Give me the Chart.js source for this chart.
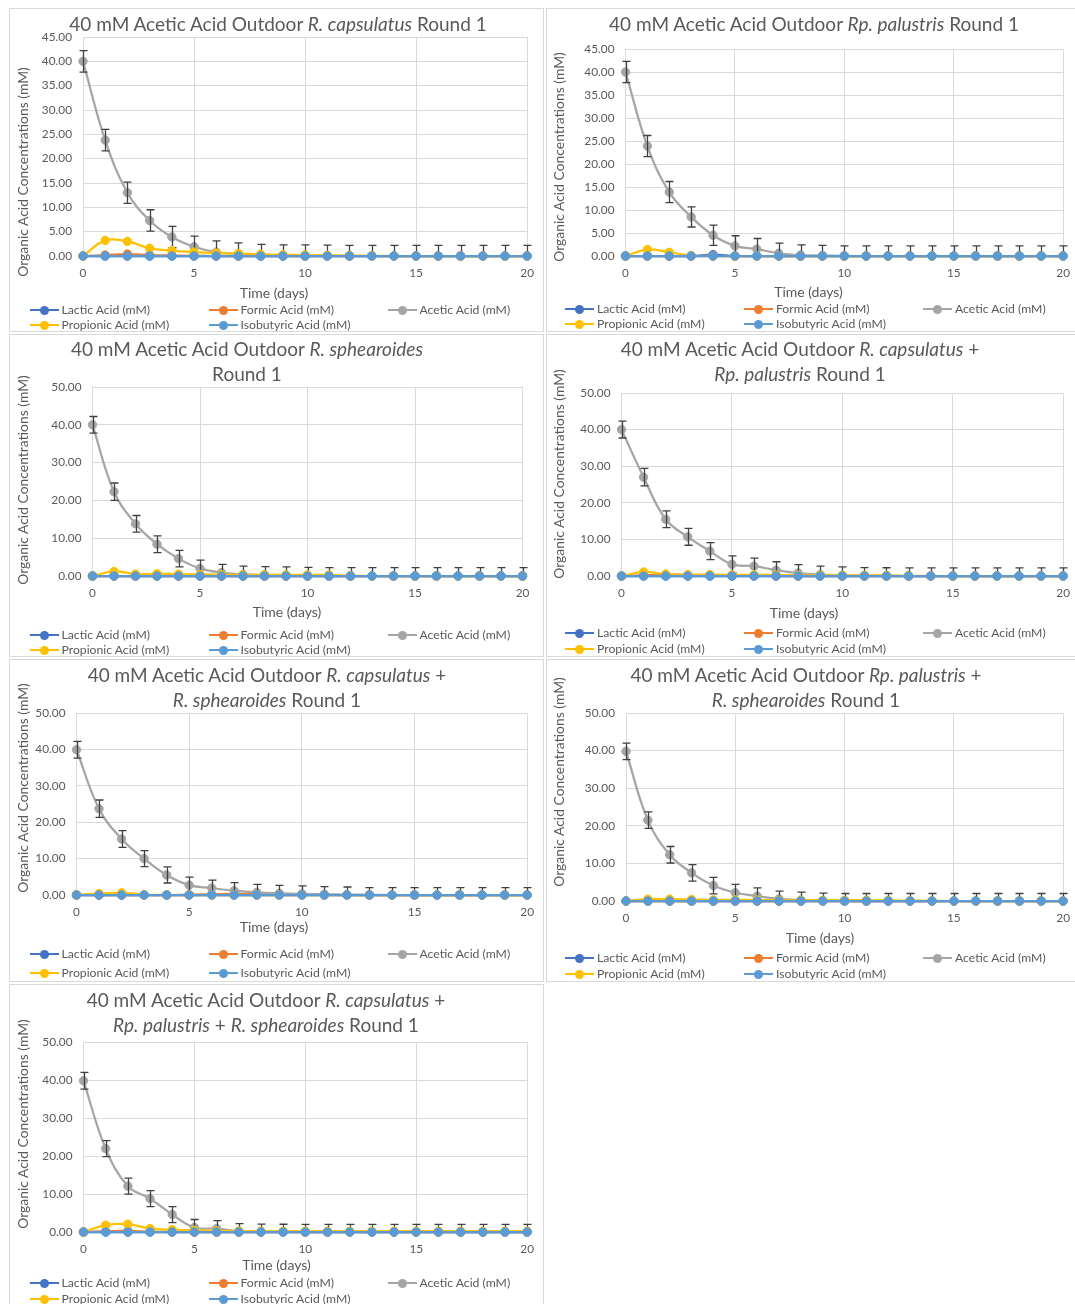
<!DOCTYPE html>
<html>
<head>
<meta charset="utf-8">
<script src="https://cdn.jsdelivr.net/npm/chart.js@4.4.1/dist/chart.umd.min.js"></script>
<style>
  html, body { margin: 0; padding: 0; background: #fff; overflow: hidden; width: 1075px; height: 1304px; }
  body { position: relative; font-family: Lato, "Open Sans", sans-serif; color: #595959; }
  .panel { position: absolute; border: 1px solid #d9d9d9; box-sizing: border-box; background: #fff; }
  canvas.cv { position: absolute; }
  .title { position: absolute; font-size: 19px; line-height: 24px; white-space: nowrap; transform: translate(-50%, -50%); }
  .xt { position: absolute; font-size: 14px; line-height: 16px; white-space: nowrap; transform: translate(-50%, -50%); }
  .yt { position: absolute; font-size: 13.9px; line-height: 16px; white-space: nowrap; transform: translate(-50%, -50%) rotate(-90deg); }
  .lg { position: absolute; font-size: 12.2px; line-height: 14px; white-space: nowrap; transform: translateY(-50%); display: flex; align-items: center; }
  .lg .mk { position: relative; width: 29px; height: 10px; margin-right: 3px; flex: none; }
  .lg .mk .ln { position: absolute; left: 0; right: 0; top: 4px; height: 2.25px; }
  .lg .mk .dot { position: absolute; left: 10px; top: 0.5px; width: 9px; height: 9px; border-radius: 50%; }
</style>
</head>
<body>
<script>
// ---- data -------------------------------------------------------------
const days = [0, 1, 2, 3, 4, 5, 6, 7, 8, 9, 10, 11, 12, 13, 14, 15, 16, 17, 18, 19, 20];

const seriesNames = ['Lactic Acid (mM)', 'Formic Acid (mM)', 'Acetic Acid (mM)', 'Propionic Acid (mM)', 'Isobutyric Acid (mM)'];

const titles = [
  ['40 mM Acetic Acid Outdoor <i>R. capsulatus</i> Round 1'],
  ['40 mM Acetic Acid Outdoor <i>Rp. palustris</i> Round 1'],
  ['40 mM Acetic Acid Outdoor <i>R. sphearoides</i>', 'Round 1'],
  ['40 mM Acetic Acid Outdoor <i>R. capsulatus</i> +', '<i>Rp. palustris</i> Round 1'],
  ['40 mM Acetic Acid Outdoor <i>R. capsulatus</i> +', '<i>R. sphearoides</i> Round 1'],
  ['40 mM Acetic Acid Outdoor <i>Rp. palustris</i> +', '<i>R. sphearoides</i> Round 1'],
  ['40 mM Acetic Acid Outdoor <i>R. capsulatus</i> +', '<i>Rp. palustris</i> + <i>R. sphearoides</i> Round 1']
];
const xAxisTitle = 'Time (days)';
const yAxisTitle = 'Organic Acid Concentrations (mM)';
const yMax = [45, 45, 50, 50, 50, 50, 50];
const yStep = [5, 5, 10, 10, 10, 10, 10];
const xMax = 20;
const xStep = 5;

// R. capsulatus
const lactic1     = [0, 0, 0, 0, 0, 0, 0, 0, 0, 0, 0, 0, 0, 0, 0, 0, 0, 0, 0, 0, 0];
const formic1     = [0, 0.2, 0.4, 0.2, 0.1, 0.05, 0, 0, 0, 0, 0, 0, 0, 0, 0, 0, 0, 0, 0, 0, 0];
const acetic1     = [40.0, 23.8, 13.0, 7.3, 3.9, 1.9, 0.8, 0.4, 0.2, 0.1, 0.1, 0.05, 0, 0, 0, 0, 0, 0, 0, 0, 0];
const aceticErr1  = [2.2, 2.2, 2.2, 2.2, 2.2, 2.2, 2.3, 2.3, 2.2, 2.2, 2.2, 2.2, 2.2, 2.2, 2.2, 2.2, 2.2, 2.2, 2.2, 2.2, 2.2];
const propionic1  = [0, 3.2, 3.0, 1.6, 1.1, 0.8, 0.6, 0.5, 0.35, 0.25, 0.2, 0.15, 0.1, 0.05, 0, 0, 0, 0, 0, 0, 0];
const isobutyric1 = [0, 0, 0, 0, 0, 0, 0, 0, 0, 0, 0, 0, 0, 0, 0, 0, 0, 0, 0, 0, 0];

// Rp. palustris
const lactic2     = [0, 0, 0, 0, 0.3, 0, 0, 0, 0, 0, 0, 0, 0, 0, 0, 0, 0, 0, 0, 0, 0];
const formic2     = [0, 0, 0, 0, 0, 0, 0, 0, 0, 0, 0, 0, 0, 0, 0, 0, 0, 0, 0, 0, 0];
const acetic2     = [40.0, 23.9, 13.9, 8.5, 4.5, 2.2, 1.5, 0.6, 0.2, 0.1, 0, 0, 0, 0, 0, 0, 0, 0, 0, 0, 0];
const aceticErr2  = [2.3, 2.3, 2.3, 2.2, 2.2, 2.2, 2.3, 2.2, 2.2, 2.2, 2.2, 2.2, 2.2, 2.2, 2.2, 2.2, 2.2, 2.2, 2.2, 2.2, 2.2];
const propionic2  = [0, 1.4, 0.8, 0.1, 0, 0, 0, 0, 0, 0, 0, 0, 0, 0, 0, 0, 0, 0, 0, 0, 0];
const isobutyric2 = [0, 0, 0, 0, 0, 0, 0, 0, 0, 0, 0, 0, 0, 0, 0, 0, 0, 0, 0, 0, 0];

// R. sphearoides
const lactic3     = [0, 0, 0, 0, 0, 0, 0, 0, 0, 0, 0, 0, 0, 0, 0, 0, 0, 0, 0, 0, 0];
const formic3     = [0, 0, 0, 0, 0, 0, 0, 0, 0, 0, 0, 0, 0, 0, 0, 0, 0, 0, 0, 0, 0];
const acetic3     = [40.0, 22.3, 13.8, 8.4, 4.6, 2.0, 0.9, 0.4, 0.3, 0.2, 0.1, 0, 0, 0, 0, 0, 0, 0, 0, 0, 0];
const aceticErr3  = [2.2, 2.3, 2.2, 2.2, 2.2, 2.2, 2.2, 2.2, 2.2, 2.2, 2.2, 2.2, 2.2, 2.2, 2.2, 2.2, 2.2, 2.2, 2.2, 2.2, 2.2];
const propionic3  = [0, 1.2, 0.5, 0.6, 0.5, 0.4, 0.35, 0.3, 0.3, 0.3, 0.3, 0.3, 0.1, 0, 0, 0, 0, 0, 0, 0, 0];
const isobutyric3 = [0, 0, 0, 0, 0, 0, 0, 0, 0, 0, 0, 0, 0, 0, 0, 0, 0, 0, 0, 0, 0];

// R. capsulatus + Rp. palustris
const lactic4     = [0, 0, 0, 0, 0, 0, 0, 0, 0, 0, 0, 0, 0, 0, 0, 0, 0, 0, 0, 0, 0];
const formic4     = [0, 0.2, 0.4, 0.3, 0.3, 0.2, 0.1, 0, 0, 0, 0, 0, 0, 0, 0, 0, 0, 0, 0, 0, 0];
const acetic4     = [40.0, 27.0, 15.5, 10.7, 6.8, 3.2, 2.7, 1.6, 0.8, 0.4, 0.2, 0.1, 0.05, 0, 0, 0, 0, 0, 0, 0, 0];
const aceticErr4  = [2.3, 2.4, 2.3, 2.3, 2.3, 2.3, 2.2, 2.3, 2.3, 2.3, 2.3, 2.2, 2.2, 2.2, 2.2, 2.2, 2.2, 2.2, 2.2, 2.2, 2.2];
const propionic4  = [0, 1.1, 0.5, 0.3, 0.3, 0.3, 0.3, 0.25, 0.2, 0.2, 0.2, 0.2, 0.15, 0.05, 0, 0, 0, 0, 0, 0, 0];
const isobutyric4 = [0, 0, 0, 0, 0, 0, 0, 0, 0, 0, 0, 0, 0, 0, 0, 0, 0, 0, 0, 0, 0];

// R. capsulatus + R. sphearoides
const lactic5     = [0, 0, 0, 0, 0, 0, 0, 0, 0, 0, 0, 0, 0, 0, 0, 0, 0, 0, 0, 0, 0];
const formic5     = [0, 0, 0, 0, 0, 0.1, 0.2, 0.3, 0.3, 0.3, 0.2, 0.1, 0, 0, 0, 0, 0, 0, 0, 0, 0];
const acetic5     = [39.9, 23.7, 15.4, 10.0, 5.5, 2.7, 1.9, 1.2, 0.7, 0.45, 0.3, 0.2, 0.1, 0.05, 0, 0, 0, 0, 0, 0, 0];
const aceticErr5  = [2.3, 2.4, 2.3, 2.2, 2.2, 2.2, 2.2, 2.2, 2.2, 2.2, 2.2, 2.1, 2.1, 2.0, 2.0, 2.0, 2.0, 2.0, 2.0, 2.0, 2.0];
const propionic5  = [0, 0.4, 0.6, 0.1, 0, 0, 0, 0, 0, 0, 0, 0, 0, 0, 0, 0, 0, 0, 0, 0, 0];
const isobutyric5 = [0, 0, 0, 0, 0, 0, 0, 0, 0, 0, 0, 0, 0, 0, 0, 0, 0, 0, 0, 0, 0];

// Rp. palustris + R. sphearoides
const lactic6     = [0, 0, 0, 0, 0, 0, 0, 0, 0, 0, 0, 0, 0, 0, 0, 0, 0, 0, 0, 0, 0];
const formic6     = [0, 0, 0, 0, 0, 0, 0, 0, 0, 0, 0, 0, 0, 0, 0, 0, 0, 0, 0, 0, 0];
const acetic6     = [39.8, 21.5, 12.3, 7.5, 4.1, 2.2, 1.3, 0.55, 0.25, 0.1, 0, 0, 0, 0, 0, 0, 0, 0, 0, 0, 0];
const aceticErr6  = [2.2, 2.2, 2.2, 2.2, 2.2, 2.2, 2.2, 2.1, 2.1, 2.0, 2.0, 2.0, 2.0, 2.0, 2.0, 2.0, 2.0, 2.0, 2.0, 2.0, 2.0];
const propionic6  = [0, 0.5, 0.5, 0.4, 0.3, 0.3, 0.25, 0.2, 0.2, 0.2, 0.2, 0.2, 0.15, 0.1, 0.05, 0, 0, 0, 0, 0, 0];
const isobutyric6 = [0, 0, 0, 0, 0, 0, 0, 0, 0, 0, 0, 0, 0, 0, 0, 0, 0, 0, 0, 0, 0];

// R. capsulatus + Rp. palustris + R. sphearoides
const lactic7     = [0, 0, 0, 0, 0, 0, 0, 0, 0, 0, 0, 0, 0, 0, 0, 0, 0, 0, 0, 0, 0];
const formic7     = [0, 0.2, 0.3, 0.1, 0, 0, 0, 0, 0, 0, 0, 0, 0, 0, 0, 0, 0, 0, 0, 0, 0];
const acetic7     = [39.9, 22.0, 12.1, 8.8, 4.6, 1.2, 0.9, 0.2, 0.1, 0.05, 0, 0, 0, 0, 0, 0, 0, 0, 0, 0, 0];
const aceticErr7  = [2.2, 2.1, 2.1, 2.1, 2.1, 2.1, 2.1, 2.0, 2.0, 2.0, 2.0, 2.0, 2.0, 2.0, 2.0, 2.0, 2.0, 2.0, 2.0, 2.0, 2.0];
const propionic7  = [0, 1.8, 2.05, 0.9, 0.6, 0.4, 0.3, 0.25, 0.2, 0.2, 0.2, 0.2, 0.2, 0.2, 0.2, 0.2, 0.2, 0.2, 0.2, 0.2, 0.2];
const isobutyric7 = [0, 0, 0, 0, 0, 0, 0, 0, 0, 0, 0, 0, 0, 0, 0, 0, 0, 0, 0, 0, 0];

const panelSeries = [
  [lactic1, formic1, acetic1, propionic1, isobutyric1],
  [lactic2, formic2, acetic2, propionic2, isobutyric2],
  [lactic3, formic3, acetic3, propionic3, isobutyric3],
  [lactic4, formic4, acetic4, propionic4, isobutyric4],
  [lactic5, formic5, acetic5, propionic5, isobutyric5],
  [lactic6, formic6, acetic6, propionic6, isobutyric6],
  [lactic7, formic7, acetic7, propionic7, isobutyric7]
];
const panelErrors = [aceticErr1, aceticErr2, aceticErr3, aceticErr4, aceticErr5, aceticErr6, aceticErr7];

// ---- style ------------------------------------------------------------
const seriesColors = ['#4472C4', '#ED7D31', '#A5A5A5', '#FFC000', '#5B9BD5'];
const ERROR_SERIES = 2;
const TEXT = '#595959';
const GRID = '#d9d9d9';
const FONT = 'Lato, "Open Sans", sans-serif';
const Y_AXIS_W = 50, X_AXIS_H = 30;

// page layout of each chart box: frame, plot area, text anchors
const layout = [
  { box: [9, 8, 544, 332],     area: [83, 37, 530, 256],       title: [278, 24],        yt: [22.5, 172],  xt: [274, 293],   lg: [29.5, 310, 325] },
  { box: [546, 8, 1080, 332],  area: [625.5, 49, 1066.5, 256], title: [814, 24],        yt: [559, 157],   xt: [808.5, 292], lg: [565, 309, 324] },
  { box: [9, 334, 544, 657],   area: [92.5, 387, 522.5, 576],  title: [247, 349, 374],  yt: [22.5, 480],  xt: [287, 612],   lg: [29.5, 635, 650] },
  { box: [546, 334, 1080, 657],area: [621.5, 393, 1065.5, 576],title: [800, 349, 374],  yt: [558.5, 474], xt: [804, 613],   lg: [565, 633, 649] },
  { box: [9, 659, 544, 982],   area: [76.5, 713, 530, 895],    title: [267, 675, 700],  yt: [22.5, 788],  xt: [274, 927],   lg: [29.5, 954, 973] },
  { box: [546, 659, 1080, 982],area: [626, 713, 1066.5, 901],  title: [806, 675, 700],  yt: [558.5, 782], xt: [820, 938],   lg: [565, 958, 974] },
  { box: [9, 984, 544, 1320],  area: [83.5, 1042.5, 530, 1232],title: [266, 1000, 1025],yt: [22.5, 1124], xt: [276.5, 1265],lg: [29.5, 1283, 1299] }
];
const legendCols = [0, 179, 358];
const legendSlots = [[0, 0], [0, 1], [0, 2], [1, 0], [1, 1]]; // [row, column] per series

// vertical error bars drawn right after their own series
const errorBarPlugin = {
  id: 'errorBars',
  afterDatasetDraw(chart, args, opts) {
    const ds = chart.data.datasets[args.index];
    if (!ds.errors) return;
    const { ctx, chartArea: a, scales: { x, y } } = chart;
    ctx.save();
    ctx.beginPath();
    ctx.rect(a.left - 10, a.top - 1, a.right - a.left + 20, a.bottom - a.top + 1);
    ctx.clip();
    ctx.strokeStyle = opts.color;
    ctx.lineWidth = opts.width;
    ds.data.forEach((p, i) => {
      const e = ds.errors[i];
      const px = Math.round(x.getPixelForValue(p.x)) + 0.5;
      const top = y.getPixelForValue(p.y + e);
      const bot = y.getPixelForValue(p.y - e);
      ctx.beginPath();
      ctx.moveTo(px, top); ctx.lineTo(px, bot);
      ctx.moveTo(px - opts.cap, top); ctx.lineTo(px + opts.cap, top);
      ctx.moveTo(px - opts.cap, bot); ctx.lineTo(px + opts.cap, bot);
      ctx.stroke();
    });
    ctx.restore();
  }
};

function addDiv(cls, html, left, top) {
  const d = document.createElement('div');
  d.className = cls;
  d.innerHTML = html;
  d.style.left = left + 'px';
  d.style.top = top + 'px';
  document.body.appendChild(d);
  return d;
}

layout.forEach((L, k) => {
  const [bl, bt, br, bb] = L.box;
  const [ax0, ay0, ax1, ay1] = L.area;

  const frame = document.createElement('div');
  frame.className = 'panel';
  Object.assign(frame.style, { left: bl + 'px', top: bt + 'px', width: (br - bl) + 'px', height: (bb - bt) + 'px' });
  document.body.appendChild(frame);

  const cv = document.createElement('canvas');
  cv.className = 'cv';
  cv.width = br - bl; cv.height = bb - bt;
  Object.assign(cv.style, { left: bl + 'px', top: bt + 'px', width: (br - bl) + 'px', height: (bb - bt) + 'px' });
  document.body.appendChild(cv);

  const datasets = panelSeries[k].map((vals, s) => ({
    label: seriesNames[s],
    data: days.map((d, i) => ({ x: d, y: vals[i] })),
    errors: s === ERROR_SERIES ? panelErrors[k] : undefined,
    borderColor: seriesColors[s],
    backgroundColor: seriesColors[s],
    pointBackgroundColor: seriesColors[s],
    pointBorderColor: seriesColors[s],
    borderWidth: 2.25,
    pointRadius: 4.2,
    pointBorderWidth: 1,
    tension: 0.4,
    clip: false,
    order: -s
  }));

  const chart = new Chart(cv, {
    type: 'line',
    data: { datasets },
    options: {
      responsive: false,
      animation: false,
      devicePixelRatio: 1,
      layout: {
        padding: {
          left: ax0 - bl - Y_AXIS_W,
          top: ay0 - bt,
          right: br - ax1,
          bottom: bb - ay1 - X_AXIS_H
        }
      },
      plugins: {
        legend: { display: false },
        title: { display: false },
        tooltip: { enabled: false },
        errorBars: { color: '#404040', width: 1.3, cap: 4 }
      },
      scales: {
        x: {
          type: 'linear', min: 0, max: xMax,
          afterFit: s => { s.height = X_AXIS_H; },
          grid: { color: GRID, lineWidth: 1, drawTicks: false },
          border: { display: false },
          ticks: { stepSize: xStep, padding: 10, color: TEXT, font: { family: FONT, size: 11.8 } }
        },
        y: {
          min: 0, max: yMax[k],
          afterFit: s => { s.width = Y_AXIS_W; },
          grid: { color: GRID, lineWidth: 1, drawTicks: false },
          border: { display: false },
          ticks: { stepSize: yStep[k], padding: 11, color: TEXT, font: { family: FONT, size: 11.8 },
                   callback: v => Number(v).toFixed(2) }
        }
      }
    },
    plugins: [errorBarPlugin]
  });

  // chart title (mixed upright / italic species names)
  titles[k].forEach((line, j) => addDiv('title', line, L.title[0], L.title[1 + j]));
  // axis titles
  addDiv('xt', xAxisTitle, L.xt[0], L.xt[1]);
  addDiv('yt', yAxisTitle, L.yt[0], L.yt[1]);
  // legend built from the chart's datasets
  chart.data.datasets.forEach((ds, s) => {
    const [row, col] = legendSlots[s];
    const item = addDiv('lg',
      '<span class="mk"><span class="ln"></span><span class="dot"></span></span><span></span>',
      L.lg[0] + legendCols[col], L.lg[1 + row]);
    item.querySelector('.ln').style.background = ds.borderColor;
    item.querySelector('.dot').style.background = ds.pointBackgroundColor;
    item.lastChild.textContent = ds.label;
  });
});
</script>
</body>
</html>
